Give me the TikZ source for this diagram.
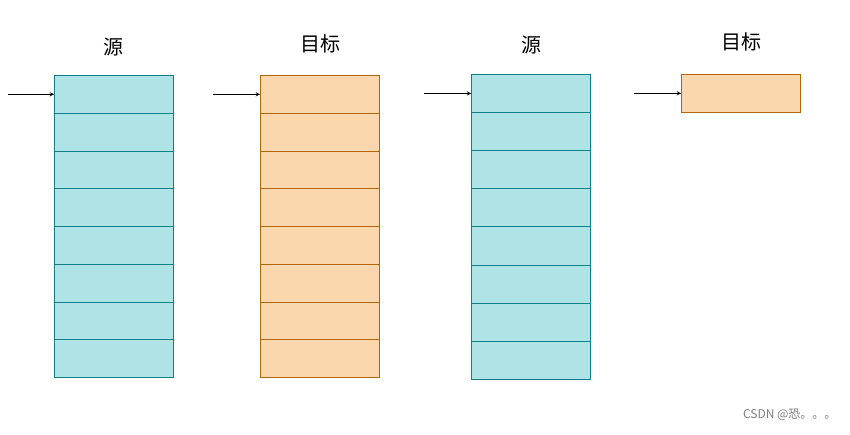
\documentclass[tikz,border=0pt]{standalone}
\usepackage{fontspec}
\newfontfamily\cjk{Noto Sans CJK SC}
\definecolor{cfill}{HTML}{B0E3E6}\definecolor{cline}{HTML}{0E8088}
\definecolor{ofill}{HTML}{FAD7AC}\definecolor{oline}{HTML}{B46504}
\tikzset{
 cyancell/.style={draw=cline,fill=cfill,line width=0.9pt,minimum width=119pt,minimum height=37.75pt,inner sep=0pt,anchor=north west},
 orangecell/.style={draw=oline,fill=ofill,line width=0.9pt,minimum width=119pt,minimum height=37.75pt,inner sep=0pt,anchor=north west},
 title/.style={font=\cjk\fontsize{20}{24}\selectfont},
 ptr/.style={-stealth,line width=0.9pt}
}
\begin{document}
\begin{tikzpicture}[x=1pt,y=-1pt]
\useasboundingbox[fill=white] (0,0) rectangle (850,434);
\foreach \i in {1,...,8}{
 \node[cyancell] (a\i) at (54,{75+(\i-1)*37.75}) {};
 \node[orangecell] (b\i) at (260,{75+(\i-1)*37.75}) {};
 \node[cyancell,minimum height=38.1pt] (c\i) at (471,{74+(\i-1)*38.1}) {};
}
\node[orangecell] (d1) at (681,74) {};
\node[title] (t1) at (113,47) {源};
\node[title] (t2) at (320,44) {目标};
\node[title] (t3) at (531,45) {源};
\node[title] (t4) at (741,42) {目标};
\coordinate (p1) at (8,0); \coordinate (p2) at (213,0);
\coordinate (p3) at (424,0); \coordinate (p4) at (634,0);
\draw[ptr] (p1 |- a1.west) -- (a1.west);
\draw[ptr] (p2 |- b1.west) -- (b1.west);
\draw[ptr] (p3 |- c1.west) -- (c1.west);
\draw[ptr] (p4 |- d1.west) -- (d1.west);
\node[text=gray,font=\cjk\fontsize{12}{14}\selectfont,anchor=east] (wm) at (840,415) {CSDN @恐。。。};
\end{tikzpicture}
\end{document}
